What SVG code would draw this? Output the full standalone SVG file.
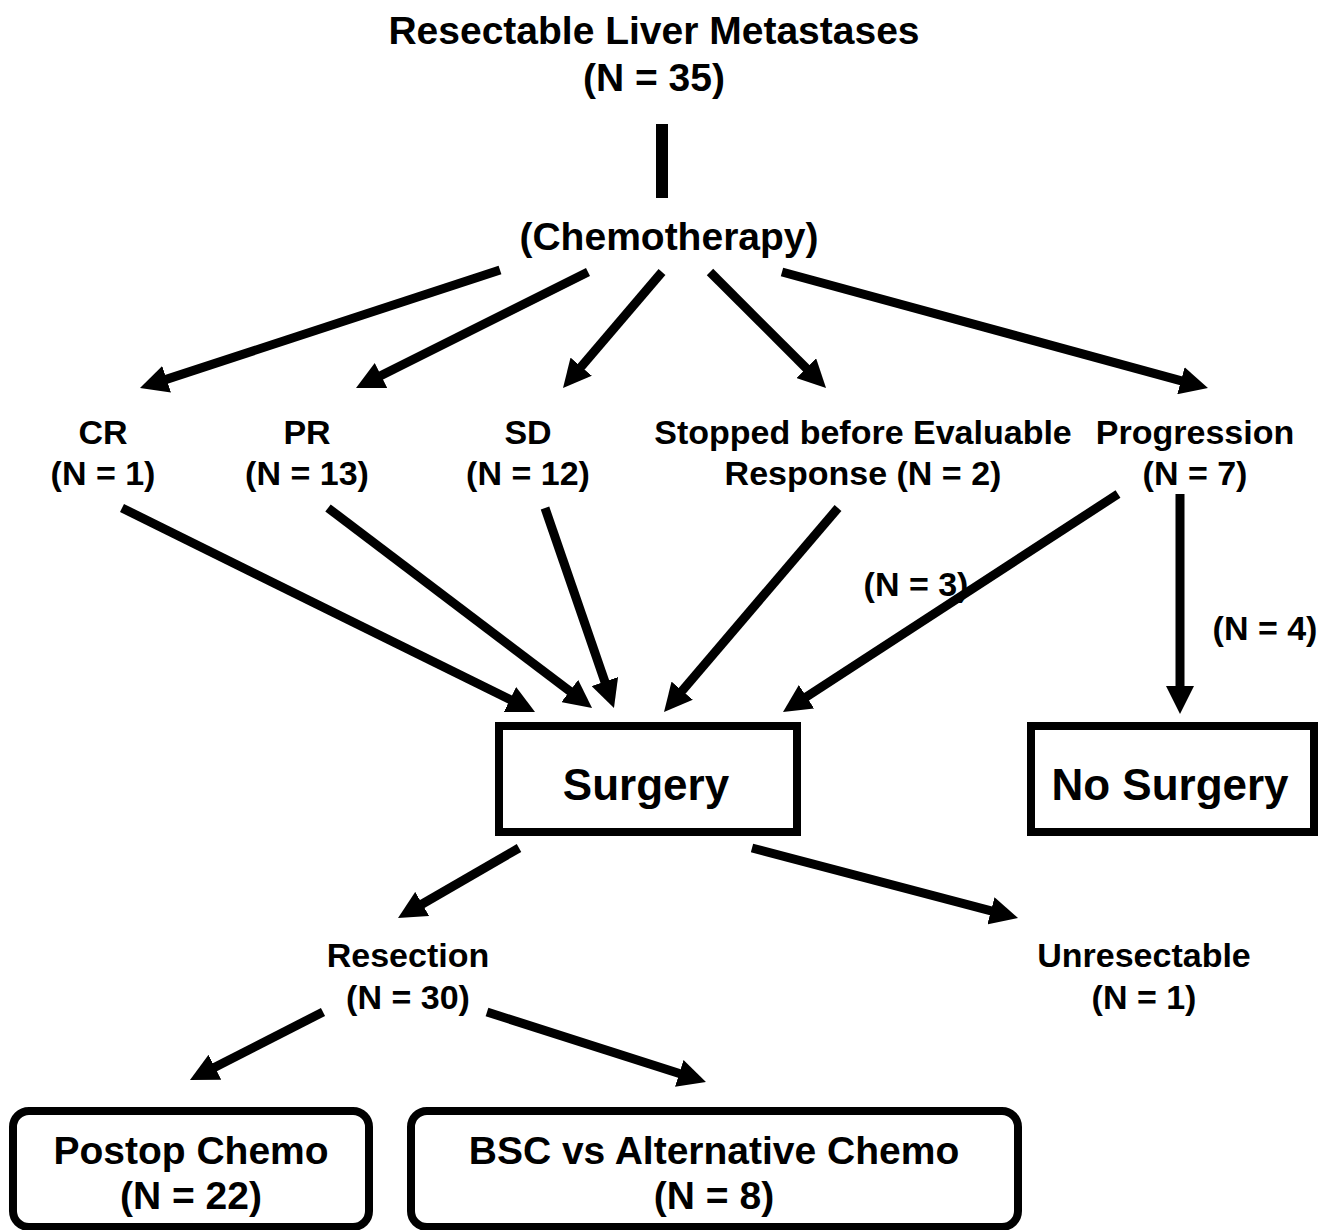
<svg xmlns="http://www.w3.org/2000/svg" width="1318" height="1230" viewBox="0 0 1318 1230">
<style>
text{font-family:"Liberation Sans",Arial,sans-serif;font-weight:bold;fill:#000;text-anchor:middle}
.t{font-size:39px}
.l{font-size:34px}
.b{font-size:44px}
.r{font-size:39px}
.c line{stroke:#000;stroke-width:9;marker-end:url(#ah)}
.box{fill:#fff;stroke:#000;stroke-width:8}
</style>
<defs>
<marker id="ah" markerUnits="userSpaceOnUse" markerWidth="28" markerHeight="28" viewBox="0 0 28 28" refX="10" refY="14" orient="auto">
<path d="M0,0 L28,14 L0,28 z" fill="#000"/>
</marker>
</defs>
<rect width="1318" height="1230" fill="#fff"/>
<g id="start">
<text class="t" x="654" y="44">Resectable Liver Metastases</text>
<text class="t" x="654" y="91">(N = 35)</text>
</g>
<g id="chemo">
<text class="t" x="669" y="250">(Chemotherapy)</text>
</g>
<g id="cr"><text class="l" x="103" y="444">CR</text><text class="l" x="103" y="485">(N = 1)</text></g>
<g id="pr"><text class="l" x="307" y="444">PR</text><text class="l" x="307" y="485">(N = 13)</text></g>
<g id="sd"><text class="l" x="528" y="444">SD</text><text class="l" x="528" y="485">(N = 12)</text></g>
<g id="stopped"><text class="l" x="863" y="444">Stopped before Evaluable</text><text class="l" x="863" y="485">Response (N = 2)</text></g>
<g id="progression"><text class="l" x="1195" y="444">Progression</text><text class="l" x="1195" y="485">(N = 7)</text></g>
<g id="surgery"><rect class="box" x="499" y="726" width="298" height="106"/><text class="b" x="646" y="800">Surgery</text></g>
<g id="nosurgery"><rect class="box" x="1031" y="726" width="283" height="106"/><text class="b" x="1170" y="800">No Surgery</text></g>
<g id="resection"><text class="l" x="408" y="967">Resection</text><text class="l" x="408" y="1009">(N = 30)</text></g>
<g id="unresectable"><text class="l" x="1144" y="967">Unresectable</text><text class="l" x="1144" y="1009">(N = 1)</text></g>
<g id="postop"><rect class="box" x="13" y="1111" width="356" height="116" rx="16"/><text class="r" x="191" y="1164">Postop Chemo</text><text class="r" x="191" y="1209">(N = 22)</text></g>
<g id="bsc"><rect class="box" x="411" y="1111" width="607" height="116" rx="16"/><text class="r" x="714" y="1164">BSC vs Alternative Chemo</text><text class="r" x="714" y="1209">(N = 8)</text></g>
<g id="connectors" class="c">
<rect x="656" y="124" width="12" height="74" fill="#000"/>
<line x1="500" y1="270" x2="157.1" y2="382.4"/>
<line x1="588" y1="272" x2="372.1" y2="380"/>
<line x1="662" y1="272" x2="574.7" y2="374.3"/>
<line x1="710" y1="272" x2="813.3" y2="375.3"/>
<line x1="782" y1="272" x2="1190.6" y2="383.3"/>
<line x1="122" y1="508" x2="518.9" y2="704"/>
<line x1="328" y1="508" x2="577.7" y2="697.1"/>
<line x1="545" y1="508" x2="608.1" y2="691"/>
<line x1="838" y1="508" x2="675.7" y2="698.3"/>
<line x1="1118" y1="494" x2="798.1" y2="702.2"/>
<line x1="1180" y1="494" x2="1180" y2="696"/>
<line x1="519" y1="848" x2="413.6" y2="909"/>
<line x1="752" y1="848" x2="1000.6" y2="913.4"/>
<line x1="323" y1="1012" x2="206" y2="1071.8"/>
<line x1="487" y1="1012" x2="688.8" y2="1076.5"/>
</g>
<g id="labels">
<text class="l" x="916" y="596">(N = 3)</text>
<text class="l" x="1265" y="640">(N = 4)</text>
</g>
</svg>
